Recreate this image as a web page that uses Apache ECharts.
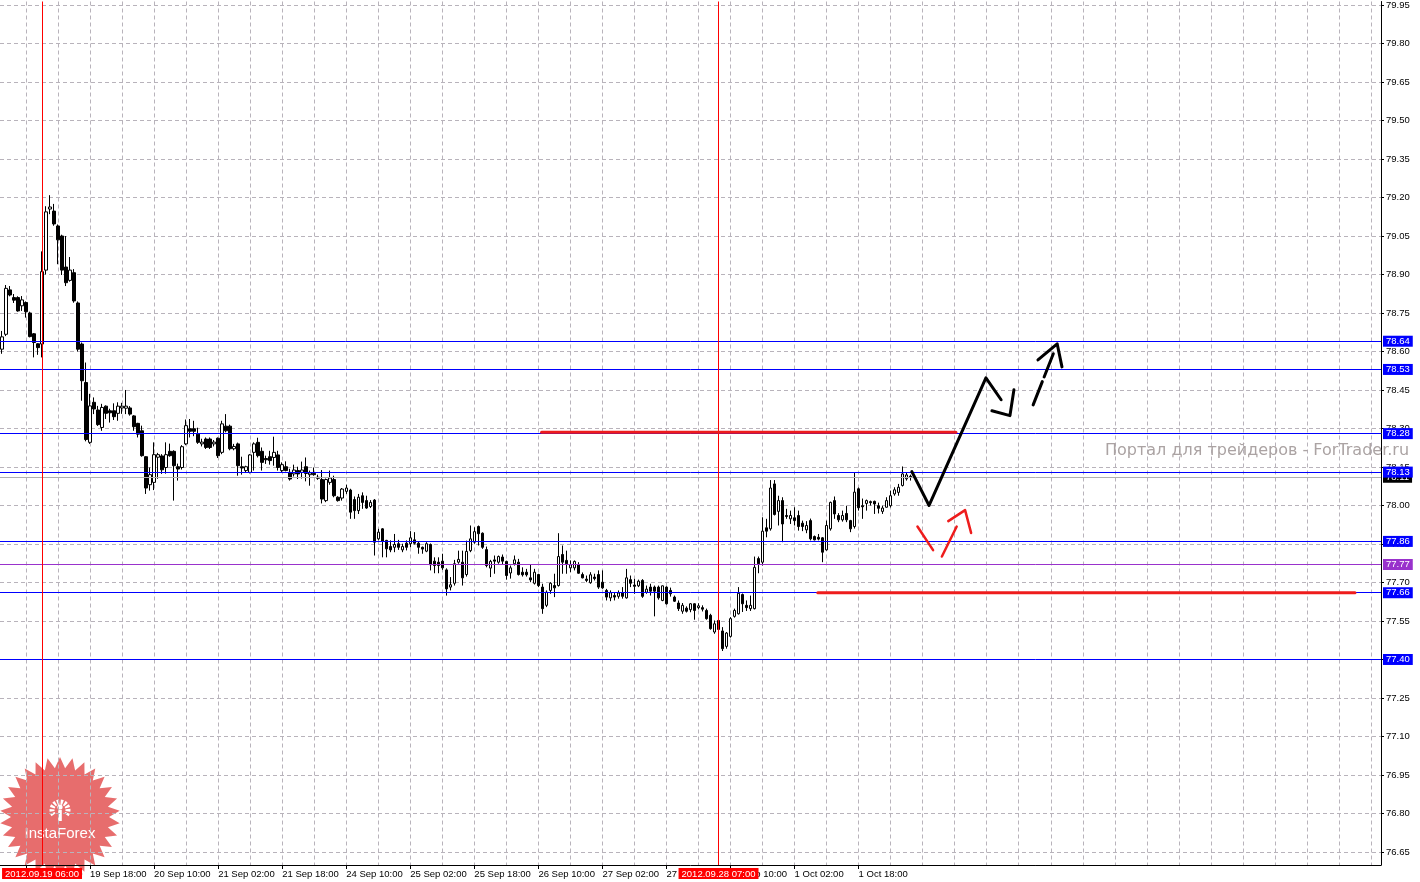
<!DOCTYPE html>
<html><head><meta charset="utf-8">
<script src="https://cdn.jsdelivr.net/npm/echarts@6/dist/echarts.min.js"></script>
<style>html,body{margin:0;padding:0;background:#fff}#c{width:1420px;height:882px}</style>
</head><body><div id="c"></div>
<script>
// ---------- DATA ----------
const openP = [78.609,78.667,78.840,78.810,78.810,78.778,78.791,78.750,78.669,78.630,
78.629,78.917,79.155,79.147,79.089,79.050,78.929,78.877,78.907,78.789,
78.629,78.479,78.246,78.402,78.372,78.304,78.387,78.369,78.369,78.359,
78.380,78.379,78.380,78.349,78.320,78.291,78.190,78.081,78.090,78.188,
78.193,78.148,78.211,78.211,78.151,78.148,78.240,78.299,78.299,78.278,
78.240,78.259,78.259,78.240,78.262,78.207,78.309,78.309,78.221,78.240,
78.151,78.136,78.129,78.207,78.246,78.211,78.183,78.190,78.187,78.197,
78.136,78.151,78.129,78.123,78.136,78.129,78.151,78.120,78.125,78.110,
78.101,78.019,78.090,78.101,78.032,78.029,78.055,78.060,78.023,77.980,
78.038,78.019,77.996,78.021,77.870,77.909,77.864,77.840,77.837,77.851,
77.827,77.853,77.851,77.866,77.853,77.837,77.822,77.848,77.783,77.779,
77.783,77.749,77.682,77.697,77.779,77.779,77.731,77.824,77.857,77.918,
77.892,77.828,77.756,77.788,77.779,77.799,77.782,77.737,77.773,77.779,
77.740,77.740,77.718,77.697,77.731,77.682,77.611,77.669,77.688,77.688,
77.809,77.786,77.757,77.757,77.769,77.731,77.713,77.699,77.721,77.731,
77.701,77.669,77.640,77.649,77.646,77.661,77.640,77.711,77.690,77.687,
77.708,77.662,77.682,77.682,77.682,77.630,77.682,77.669,77.643,77.620,
77.588,77.600,77.594,77.617,77.602,77.602,77.591,77.572,77.507,77.552,
77.511,77.451,77.490,77.568,77.578,77.653,77.611,77.598,77.598,77.793,
77.779,77.913,77.909,78.084,77.977,78.019,77.961,77.948,77.952,77.961,
77.931,77.905,77.941,77.879,77.876,77.874,77.827,77.909,78.019,77.961,
77.944,77.969,77.941,77.918,78.065,77.999,78.008,78.015,78.016,77.999,
77.977,77.993,77.999,78.045,78.051,78.078,78.104,78.114];
const closeP = [78.657,78.846,78.820,78.800,78.758,78.801,78.755,78.658,78.635,78.615,
78.911,79.144,79.163,79.097,79.035,78.917,78.868,78.917,78.797,78.609,
78.486,78.257,78.388,78.376,78.315,78.382,78.359,78.361,78.346,78.387,
78.387,78.387,78.356,78.307,78.278,78.194,78.068,78.120,78.198,78.198,
78.139,78.198,78.194,78.155,78.142,78.229,78.311,78.289,78.289,78.246,
78.247,78.226,78.226,78.247,78.194,78.318,78.291,78.221,78.230,78.155,
78.146,78.151,78.197,78.240,78.194,78.168,78.178,78.175,78.207,78.148,
78.159,78.136,78.103,78.138,78.123,78.138,78.125,78.127,78.120,78.106,
78.025,78.101,78.107,78.038,78.019,78.064,78.068,77.974,77.980,78.032,
78.012,77.990,78.012,77.857,77.896,77.861,77.831,77.827,77.848,77.837,
77.840,77.837,77.874,77.853,77.837,77.830,77.851,77.769,77.766,77.766,
77.757,77.675,77.691,77.773,77.790,77.718,77.821,77.870,77.898,77.890,
77.837,77.766,77.782,77.783,77.801,77.783,77.727,77.757,77.788,77.731,
77.730,77.730,77.710,77.740,77.688,77.598,77.662,77.697,77.679,77.801,
77.779,77.773,77.769,77.782,77.736,77.718,77.708,77.730,77.715,77.682,
77.679,77.643,77.660,77.643,77.659,77.646,77.718,77.697,77.685,77.705,
77.646,77.674,77.666,77.666,77.640,77.687,77.617,77.656,77.627,77.598,
77.611,77.588,77.617,77.591,77.609,77.596,77.559,77.520,77.539,77.517,
77.442,77.503,77.559,77.591,77.658,77.617,77.602,77.611,77.759,77.773,
77.900,77.900,78.068,77.965,78.019,77.928,77.957,77.961,77.941,77.918,
77.918,77.922,77.870,77.866,77.869,77.818,77.922,78.012,77.967,77.944,
77.961,77.944,77.909,78.052,77.991,77.995,78.019,78.011,78.006,77.989,
77.990,78.019,78.038,78.061,78.071,78.123,78.119,78.110];
const lowP = [78.591,78.660,78.815,78.789,78.755,78.758,78.732,78.655,78.577,78.587,
78.577,78.900,79.135,79.090,78.940,78.898,78.855,78.872,78.790,78.600,
78.408,78.250,78.240,78.356,78.310,78.291,78.337,78.323,78.333,78.330,
78.357,78.356,78.350,78.291,78.265,78.190,78.045,78.058,78.060,78.104,
78.123,78.124,78.190,78.019,78.097,78.140,78.235,78.265,78.270,78.240,
78.230,78.220,78.220,78.230,78.185,78.200,78.285,78.215,78.215,78.116,
78.120,78.127,78.125,78.136,78.187,78.136,78.162,78.159,78.155,78.136,
78.129,78.133,78.097,78.113,78.103,78.105,78.094,78.077,78.116,78.100,
78.008,78.013,78.081,78.032,78.015,78.019,78.045,77.948,77.948,77.967,
77.987,77.987,77.990,77.805,77.864,77.798,77.798,77.818,77.818,77.827,
77.818,77.825,77.837,77.848,77.812,77.812,77.818,77.747,77.736,77.736,
77.749,77.649,77.669,77.688,77.773,77.688,77.723,77.818,77.851,77.844,
77.831,77.759,77.721,77.734,77.773,77.770,77.711,77.715,77.766,77.727,
77.723,77.723,77.701,77.692,77.682,77.578,77.604,77.656,77.643,77.684,
77.734,77.734,77.740,77.747,77.734,77.716,77.701,77.695,77.708,77.675,
77.675,77.630,77.627,77.630,77.637,77.637,77.637,77.682,77.656,77.682,
77.640,77.656,77.649,77.568,77.633,77.627,77.614,77.645,77.624,77.589,
77.578,77.583,77.584,77.555,77.595,77.587,77.555,77.516,77.500,77.498,
77.433,77.442,77.485,77.563,77.575,77.585,77.589,77.589,77.595,77.736,
77.766,77.876,77.902,77.961,77.922,77.857,77.948,77.928,77.922,77.902,
77.900,77.892,77.864,77.864,77.864,77.779,77.824,77.902,77.948,77.935,
77.937,77.935,77.896,77.910,77.980,77.948,77.980,78.000,77.967,77.969,
77.967,77.992,77.992,78.038,78.038,78.074,78.097,78.097];
const highP = [78.680,78.859,78.855,78.824,78.815,78.816,78.795,78.755,78.672,78.632,
78.990,79.166,79.209,79.175,79.095,79.055,79.050,78.968,78.921,78.795,
78.635,78.557,78.435,78.421,78.388,78.396,78.390,78.377,78.398,78.402,
78.400,78.450,78.387,78.352,78.322,78.311,78.192,78.148,78.246,78.205,
78.200,78.246,78.241,78.215,78.163,78.235,78.335,78.337,78.330,78.303,
78.260,78.265,78.265,78.255,78.265,78.330,78.356,78.315,78.240,78.245,
78.190,78.155,78.200,78.246,78.264,78.226,78.194,78.213,78.268,78.213,
78.168,78.172,78.143,78.159,78.151,78.171,78.187,78.136,78.148,78.120,
78.138,78.105,78.136,78.116,78.036,78.068,78.081,78.065,78.035,78.045,
78.051,78.038,78.021,78.025,77.909,77.912,77.866,77.864,77.889,77.866,
77.851,77.864,77.900,77.896,77.861,77.840,77.857,77.852,77.798,77.798,
77.812,77.755,77.721,77.788,77.824,77.824,77.863,77.922,77.915,77.922,
77.895,77.840,77.788,77.805,77.805,77.809,77.785,77.766,77.805,77.792,
77.759,77.753,77.770,77.753,77.734,77.695,77.669,77.701,77.734,77.892,
77.844,77.824,77.786,77.786,77.779,77.739,77.727,77.740,77.734,77.747,
77.747,77.675,77.669,77.662,77.669,77.682,77.753,77.727,77.714,77.711,
77.713,77.688,77.695,77.688,77.688,77.688,77.685,77.680,77.649,77.630,
77.620,77.607,77.620,77.619,77.619,77.611,77.598,77.578,77.552,77.555,
77.526,77.507,77.565,77.598,77.682,77.657,77.630,77.649,77.801,77.801,
77.954,77.948,78.099,78.099,78.038,78.032,77.987,77.980,77.993,77.980,
77.941,77.939,77.949,77.883,77.889,77.877,77.941,78.015,78.035,77.970,
77.980,77.999,77.944,78.129,78.070,78.027,78.023,78.019,78.019,78.011,
77.999,78.032,78.058,78.071,78.084,78.152,78.129,78.120];

const priceTicks = [76.65,76.80,76.95,77.10,77.25,77.40,77.55,77.70,77.85,78.00,78.15,78.30,
  78.45,78.60,78.75,78.90,79.05,79.20,79.35,79.50,79.65,79.80,79.95];
const blueLevels = [78.64, 78.53, 78.28, 78.13, 77.86, 77.66, 77.40];
const purpleLevel = 77.77;
const bidLevel = 78.11;
const markedBars = [['19 Sep 06:00', '2012.09.19 06:00'], ['28 Sep 07:00', '2012.09.28 07:00']];

// hand-drawn annotations: [bar index, price]
const redLineTop = [[134.8, 78.285], [238.3, 78.285]];
const redLineBottom = [[203.8, 77.66], [338.0, 77.66]];
const blackPath = [[227.3, 78.132], [231.6, 78.000], [245.8, 78.497], [249.6, 78.412]];
const blackHead = [[247.3, 78.369], [251.8, 78.350], [252.8, 78.451]];
const dashedShaft = [[257.6, 78.392], [262.8, 78.598]];
const dashedHead = [[258.8, 78.567], [263.6, 78.630], [264.8, 78.540]];
const redSeg1 = [[228.7, 77.918], [232.6, 77.826]];
const redSeg2 = [[234.8, 77.801], [238.5, 77.918]];
const redHead = [[236.4, 77.939], [240.6, 77.982], [242.1, 77.893]];

const barCount = 345;        // bars spanned by the chart window (incl. empty future space)
const lastBar = openP.length - 1;
const months = ['Jan','Feb','Mar','Apr','May','Jun','Jul','Aug','Sep','Oct','Nov','Dec'];

// hourly trading-time categories (weekends skipped)
const categories = [];
{
  let t = Date.UTC(2012, 8, 18, 20);
  while (categories.length < barCount) {
    const d = new Date(t);
    const wd = d.getUTCDay();
    if (wd !== 0 && wd !== 6) {
      const hh = String(d.getUTCHours()).padStart(2, '0');
      categories.push(d.getUTCDate() + ' ' + months[d.getUTCMonth()] + ' ' + hh + ':00');
    }
    t += 3600000;
  }
}
const vGrid = [];
for (let k = 6; k < barCount; k += 8) vGrid.push(k);

const candles = openP.map((o, i) => [o, closeP[i], lowP[i], highP[i]]);

// ---------- CHART ----------
const FONT = 'Liberation Sans';
const chart = echarts.init(document.getElementById('c'), null, {renderer: 'canvas'});
const gridStyle = {color: '#b8b3bb', width: 1, type: [4, 3]};
const labelBox = (bg) => ({
  show: true, position: 'end', distance: 2,
  formatter: (p) => Number(p.value).toFixed(2),
  color: '#fff', backgroundColor: bg, padding: [1, 3, 0, 3],
  fontFamily: FONT, fontSize: 9.5, lineHeight: 10
});
const levelData = [
  {yAxis: bidLevel, lineStyle: {color: '#b0b0b0', width: 1, type: 'solid'}, label: labelBox('#000')},
  {yAxis: purpleLevel, lineStyle: {color: '#9932cc', width: 1, type: 'solid'}, label: labelBox('#9932cc')}
].concat(blueLevels.map(v => ({yAxis: v, lineStyle: {color: '#0000ff', width: 1, type: 'solid'}, label: labelBox('#0000ff')})));
const vMarks = markedBars.map(([cat, txt]) => ({
  xAxis: cat,
  lineStyle: {color: '#ff0000', width: 1, type: 'solid'},
  label: {show: true, position: 'start', distance: 3, formatter: txt, color: '#fff',
    backgroundColor: '#ff0000', padding: [1, 3, 0, 3], fontFamily: FONT, fontSize: 9.5, lineHeight: 10}
}));

const lineSeries = (data, color, width, type) => ({
  type: 'line', xAxisIndex: 1, yAxisIndex: 0, data, symbol: 'none', silent: true,
  animation: false, z: 5, lineStyle: {color, width, type: type || 'solid', cap: 'round', join: 'round'}
});

// starburst logo geometry
const burst = [];
{
  const cx = 60, cy = 817, n = 30;
  for (let k = 0; k < n * 2; k++) {
    const r = k % 2 === 0 ? 60 : 49;
    const a = Math.PI * k / n - Math.PI / 2;
    burst.push([cx + r * Math.cos(a), cy + r * Math.sin(a)]);
  }
}

chart.setOption({
  animation: false,
  backgroundColor: '#fff',
  textStyle: {fontFamily: FONT},
  grid: {left: 0, right: 39, top: 0, bottom: 17, containLabel: false},
  xAxis: [{
    type: 'category', data: categories, boundaryGap: true,
    axisLine: {show: true, onZero: false, lineStyle: {color: '#000', width: 1}},
    axisTick: {show: true, alignWithLabel: true, length: 4, lineStyle: {color: '#000'},
      interval: (i) => i <= lastBar && (i - 6) % 16 === 0},
    axisLabel: {show: true, interval: (i) => i <= lastBar && (i - 6) % 16 === 0,
      align: 'left', margin: 4, color: '#000', fontFamily: FONT, fontSize: 9.5},
    splitLine: {show: false}
  }, {
    type: 'value', min: -0.5, max: barCount - 0.5, position: 'bottom',
    axisLine: {show: false, onZero: false}, axisLabel: {show: false, customValues: vGrid},
    axisTick: {show: false, customValues: vGrid},
    splitLine: {show: true, lineStyle: gridStyle}
  }],
  yAxis: [{
    type: 'value', position: 'right', min: 76.5992, max: 79.9636, scale: true,
    axisLine: {show: true, onZero: false, lineStyle: {color: '#000', width: 1}},
    axisTick: {show: true, length: 3, customValues: priceTicks, lineStyle: {color: '#000'}},
    axisLabel: {show: true, customValues: priceTicks, margin: 5, color: '#000', fontFamily: FONT, fontSize: 9.5,
      formatter: (v) => v.toFixed(2)},
    splitLine: {show: true, lineStyle: gridStyle}
  }],
  series: [
    {
      type: 'candlestick', xAxisIndex: 0, yAxisIndex: 0, data: candles, barWidth: 3,
      animation: false, silent: true,
      itemStyle: {color: '#fff', color0: '#000', borderColor: '#000', borderColor0: '#000', borderWidth: 1},
      markLine: {silent: true, symbol: 'none', animation: false, data: levelData.concat(vMarks)}
    },
    lineSeries(redLineTop, '#ee1c1c', 3),
    lineSeries(redLineBottom, '#ee1c1c', 3),
    lineSeries(blackPath, '#000', 3),
    lineSeries(blackHead, '#000', 3),
    lineSeries(dashedShaft, '#000', 3, [25, 5]),
    lineSeries(dashedHead, '#000', 3),
    lineSeries(redSeg1, '#ee1c1c', 2.5),
    lineSeries(redSeg2, '#ee1c1c', 2.5),
    lineSeries(redHead, '#ee1c1c', 2.5)
  ],
  graphic: [
    {type: 'text', z: 100, silent: true, x: 1105, y: 451,
      style: {text: 'Портал для трейдеров - ForTrader.ru', fill: '#aba3a3', font: '16px "DejaVu Sans"',
        textVerticalAlign: 'middle'}},
    {type: 'group', z: 100, silent: true, children: [
      {type: 'polygon', shape: {points: burst}, style: {fill: 'rgba(220,40,40,0.68)'}},
      {type: 'arc', shape: {cx: 60, cy: 810, r: 8, startAngle: Math.PI * 0.8, endAngle: Math.PI * 2.2},
        style: {stroke: '#fff', lineWidth: 5, lineDash: [2.2, 1.4], fill: null}},
      {type: 'circle', shape: {cx: 60, cy: 807, r: 2.6}, style: {fill: '#fff'}},
      {type: 'rect', shape: {x: 58.2, y: 810, width: 3.6, height: 11}, style: {fill: '#fff'}},
      {type: 'text', x: 60, y: 834, style: {text: 'InstaForex', fill: '#fff', font: '15px "Liberation Sans"',
        textAlign: 'center', textVerticalAlign: 'middle'}}
    ]}
  ]
});
</script></body></html>
